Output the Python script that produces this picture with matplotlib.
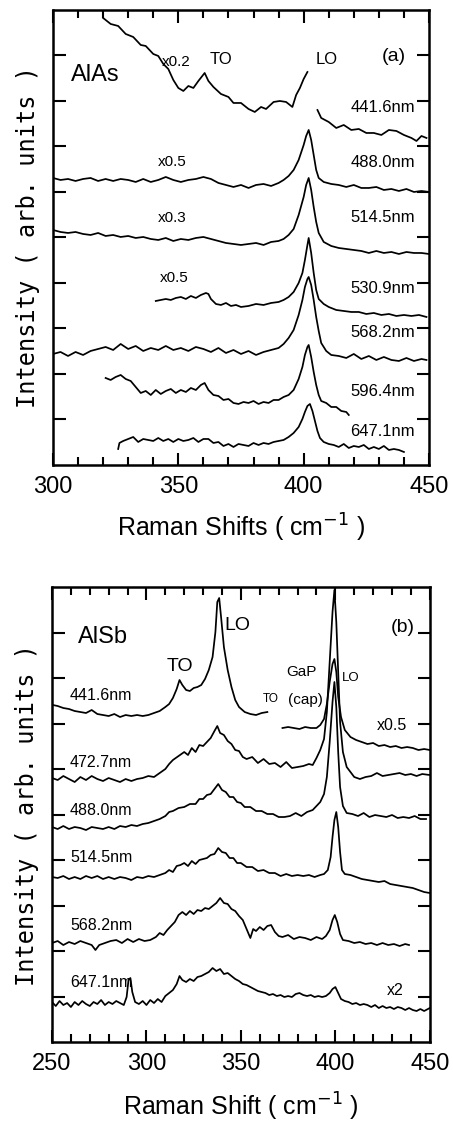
import matplotlib
matplotlib.use("Agg")
import matplotlib.pyplot as plt
from matplotlib.ticker import MultipleLocator

nan = float("nan")

# ---------------- (a) AlAs ----------------
a_4416_x = [320, 323, 326, 329, 332, 335, 337, 340, 342, 344, 346, 348, 350, 352, 354, 356, 358, 360.5, 362, 364,
            367, 370, 372, 375, 378, 380.5, 383, 385, 388, 390.5, 393, 395.5, 397, 398.5, 400, 401.5, 403.5,
            405.5, 407, 410, 413, 416, 419, 422, 425, 428, 431, 434, 437, 440, 443, 445, 447, 449]
a_4416_y = [447, 441, 439, 431, 428, 420, 419, 411, 409, 401, 396, 385, 377, 374, 379, 377, 384, 392, 384, 378,
            371, 368, 362, 362, 356, 353, 358, 356, 363, 364, 363, 358, 370, 377, 386, 393, nan,
            355, 347, 343, 337, 340, 335, 336, 332, 332, 330, 335, 334, 330, 327, 324, 329, 327]

a_4880_x = [300, 303, 306, 309, 312, 315, 318, 321, 324, 327, 330, 333, 336, 339, 342, 345, 348, 351, 354, 357,
            360, 363, 366, 369, 372, 375, 378, 381, 384, 387, 390, 392, 394, 396, 398, 400, 401, 402, 403, 404,
            405, 406, 408, 411, 414, 417, 420, 423, 426, 429, 432, 435, 438, 441, 444, 447, 450]
a_4880_y = [287, 285, 286, 284, 286, 287, 284, 286, 284, 286, 285, 283, 286, 283, 285, 288, 285, 283, 285, 286,
            288, 286, 282, 280, 278, 280, 277, 280, 281, 279, 282, 285, 289, 295, 305, 320, 329, 335, 325, 310,
            295, 287, 283, 281, 280, 278, 280, 277, 277, 278, 275, 276, 274, 276, 273, 274, 273]

a_5145_x = a_4880_x
a_5145_y = [235, 233, 232, 233, 231, 230, 232, 229, 230, 228, 229, 227, 228, 226, 225, 227, 224, 226, 225, 227,
            228, 226, 224, 222, 221, 220, 221, 222, 220, 223, 224, 226, 230, 236, 250, 268, 280, 287, 275, 258,
            243, 232, 223, 219, 217, 216, 215, 214, 212, 214, 212, 213, 211, 213, 212, 212, 211]

a_5309_x = [341, 343, 345, 347, 349, 351, 353, 355, 357, 359, 361, 362, 363, 365, 367, 369, 371, 373, 375, 378,
            381, 384, 387, 390, 392, 394, 396, 398, 399.5, 400.5, 401.5, 402, 403, 404, 405, 406, 408, 410, 413,
            416, 419, 422, 425, 428, 431, 434, 437, 440, 443, 446, 449]
a_5309_y = [164, 165, 166, 165, 167, 168, 166, 169, 167, 170, 172, 171, 166, 161, 160, 162, 159, 160, 158, 159,
            161, 160, 162, 163, 165, 168, 173, 182, 192, 205, 220, 227, 212, 192, 175, 166, 161, 158, 155,
            154, 153, 153, 151, 152, 150, 151, 149, 150, 149, 150, 148]

a_5682_x = [300, 303, 306, 309, 312, 315, 318, 321, 324, 327, 330, 333, 336, 339, 342, 345, 348, 351, 354, 357,
            360, 363, 366, 369, 372, 375, 378, 381, 384, 387, 390, 392, 394, 396, 398, 399.5, 400.5, 401.5, 402,
            403, 404, 405, 406, 407, 409, 411, 414, 417, 420, 423, 426, 429, 432, 435, 438, 441, 444, 447, 449]
a_5682_y = [111, 113, 109, 113, 110, 114, 116, 118, 115, 121, 116, 119, 114, 117, 115, 119, 115, 117, 114, 118,
            116, 113, 117, 112, 115, 111, 114, 110, 113, 115, 117, 121, 127, 135, 150, 165, 178, 186, 188,
            180, 165, 148, 134, 122, 114, 110, 109, 107, 111, 106, 109, 105, 108, 105, 104, 107, 104, 106, 105]

a_5964_x = [321, 323, 325, 327, 329, 331, 333, 335, 337, 339, 341, 343, 345, 347, 349, 351, 353, 355, 357, 359,
            360.5, 362, 364, 366, 368, 370, 372, 374, 376, 378, 380, 382, 384, 386, 388, 390, 392, 394, 396, 398,
            399.5, 400.5, 401.5, 402, 403, 404, 405, 406, 407, 409, 411, 413, 415, 417, 418]
a_5964_y = [87, 85, 88, 90, 86, 84, 78, 72, 74, 70, 75, 71, 74, 76, 72, 75, 73, 77, 75, 80,
            82, 75, 70, 69, 65, 66, 62, 61, 63, 62, 64, 61, 63, 62, 65, 65, 68, 70, 75, 86,
            98, 110, 118, 120, 108, 93, 80, 70, 64, 62, 58, 58, 54, 53, 50]

a_6471_x = [326, 326.5, 328, 330, 332, 334, 336, 338, 340, 342, 344, 346, 348, 350, 352, 354, 356, 358, 360, 362,
            364, 366, 368, 370, 372, 374, 376, 378, 380, 382, 384, 386, 388, 390, 392, 394, 396, 398, 399.5,
            400.5, 401.5, 402.5, 403.5, 404.5, 405.5, 406.5, 408, 410, 412, 414, 416, 418, 420, 422, 424, 426,
            428, 430, 432, 434, 436, 438, 440]
a_6471_y = [16, 22, 24, 26, 28, 23, 26, 25, 24, 27, 24, 26, 23, 26, 24, 25, 27, 23, 26, 26,
            22, 23, 19, 21, 18, 21, 20, 19, 22, 20, 22, 21, 23, 24, 25, 28, 32, 38, 46,
            53, 59, 61, 54, 44, 34, 27, 23, 21, 20, 18, 21, 17, 19, 18, 20, 16,
            18, 16, 19, 15, 16, 15, 13]

a_labels = ["441.6nm", "488.0nm", "514.5nm", "530.9nm", "568.2nm", "596.4nm", "647.1nm"]
a_label_y = [357, 302, 247, 176, 132, 73, 33]
a_factors = ["x0.2", "x0.5", "x0.3", "x0.5"]
a_factor_x = [349, 347.5, 347.5, 348.5]
a_factor_y = [403, 303, 247, 187]

# ---------------- (b) AlSb ----------------
b_4416_x = [250.5, 253, 256, 259, 262, 265, 268, 271, 274, 277, 280, 283, 286, 289, 292, 295, 298, 301, 304, 307,
            310, 312, 314, 316, 317.5, 319, 321, 323, 325, 327, 329, 331, 333, 335, 336.5, 337.5, 338.5, 339.5,
            341, 343, 345, 347, 349, 352, 355, 358, 361, 364, 368, 372, 375, 378, 381, 384, 387, 390, 392,
            394, 395.5, 397, 398.5, 399.5, 400.5, 401.5, 403, 405, 408, 411, 414, 417, 420, 423, 426, 429, 432,
            435, 438, 441, 444, 447, 450]
b_4416_y = [337, 336, 334, 333, 331, 330, 329, 332, 328, 327, 326, 328, 325, 327, 326, 327, 326, 327, 329, 331,
            335, 338, 344, 353, 362, 357, 352, 351, 354, 355, 357, 363, 372, 385, 410, 440, 444, 425,
            395, 372, 355, 342, 335, 330, 328, 327, 329, 330, nan, 314, 315, 314, 313, 315, 314, 314, 317,
            323, 338, 360, 378, 383, 370, 345, 325, 312, 305, 302, 300, 298, 299, 296, 297, 295, 296,
            294, 295, 294, 292, 293, 292]

b_4727_x = [250, 253, 256, 259, 262, 265, 268, 271, 274, 277, 280, 283, 286, 289, 292, 295, 298, 301, 304, 307,
            310, 312, 314, 317, 320, 322, 324, 326, 328, 330, 332, 334, 336, 337.5, 339, 341, 343, 345, 347, 349,
            351, 353, 356, 359, 362, 365, 368, 371, 374, 377, 380, 383, 386, 388, 390, 392, 394, 395.5, 397,
            398.5, 399.5, 400.5, 401.5, 402.5, 404, 406, 408, 410, 413, 416, 419, 422, 425, 428, 431, 434, 437,
            440, 443, 446, 450]
b_4727_y = [264, 262, 266, 263, 260, 265, 262, 266, 263, 261, 264, 262, 260, 263, 261, 263, 264, 266, 265, 269,
            273, 278, 282, 286, 290, 287, 294, 290, 297, 296, 300, 304, 311, 316, 309, 307, 301, 298, 292, 291,
            285, 283, 285, 279, 283, 278, 279, 275, 280, 274, 275, 276, 278, 277, 284, 292, 303, 330, 380,
            430, 452, 420, 370, 320, 290, 275, 270, 265, 263, 265, 266, 269, 266, 267, 268, 269, 267,
            268, 266, 268, 267]

b_4880_x = [250, 253, 256, 259, 262, 265, 268, 271, 274, 277, 280, 283, 286, 289, 292, 295, 298, 301, 304, 307,
            310, 312, 314, 317, 320, 323, 326, 328, 330, 332, 334, 336, 338, 340, 342, 344, 346, 348, 350, 352,
            355, 358, 361, 364, 367, 370, 373, 376, 379, 382, 385, 388, 390, 392, 394, 395.5, 397, 398.5, 399.5,
            400.5, 401.5, 402.5, 404, 406, 409, 412, 415, 418, 421, 424, 427, 430, 433, 436, 439, 442, 445, 448]
b_4880_y = [215, 213, 216, 213, 215, 214, 212, 215, 214, 213, 215, 213, 216, 215, 217, 216, 218, 219, 221, 223,
            226, 230, 231, 234, 235, 238, 238, 243, 243, 247, 248, 253, 258, 252, 250, 245, 245, 240, 239, 235,
            235, 231, 231, 228, 228, 225, 225, 226, 229, 226, 230, 232, 236, 240, 248, 265, 300, 340, 360,
            335, 290, 255, 236, 229, 228, 226, 229, 225, 227, 226, 225, 227, 224, 225, 224, 226, 223, 223]

b_5145_x = [250, 253, 256, 259, 262, 265, 268, 271, 274, 277, 280, 283, 286, 289, 292, 295, 298, 301, 304, 307,
            310, 312, 314, 316, 318, 320, 322, 324, 326, 328, 330, 332, 334, 336, 338, 340, 342, 344, 346, 348,
            350, 353, 356, 359, 362, 365, 368, 371, 374, 377, 380, 383, 386, 389, 392, 394, 396, 397.5, 398.5,
            399.5, 400.5, 401.5, 402.5, 403.5, 405, 408, 411, 414, 417, 420, 423, 426, 429, 432, 435, 438, 441,
            444, 447, 450]
b_5145_y = [165, 164, 166, 163, 165, 163, 166, 164, 166, 163, 165, 163, 165, 164, 162, 165, 164, 166, 165, 167,
            169, 172, 170, 176, 177, 179, 176, 181, 178, 182, 183, 184, 187, 188, 194, 190, 189, 184, 184, 179,
            179, 175, 175, 171, 172, 169, 169, 166, 168, 166, 167, 166, 167, 165, 167, 168, 172, 185, 205,
            222, 230, 215, 190, 172, 168, 167, 165, 163, 162, 161, 160, 161, 158, 157, 156, 155, 154,
            152, 150, 149]

b_5682_x = [250, 253, 256, 259, 262, 265, 268, 271, 273, 275, 278, 281, 284, 287, 290, 293, 296, 299, 302, 305,
            307, 309, 311, 313, 315, 317, 319, 321, 323, 325, 327, 329, 331, 333, 335, 337, 339, 341, 343, 345,
            347, 349, 351, 353, 355, 356.5, 358, 360, 362, 364, 366, 368, 370, 372, 375, 378, 381, 384, 387, 390,
            393, 395, 397, 398.5, 399.7, 401, 402.5, 404, 407, 410, 413, 416, 419, 422, 425, 428, 431, 434, 437,
            439]
b_5682_y = [99, 101, 97, 100, 98, 101, 99, 97, 92, 97, 99, 101, 102, 99, 103, 100, 103, 101, 102, 105,
            109, 107, 112, 116, 120, 127, 130, 127, 131, 128, 132, 131, 134, 133, 136, 139, 144, 139, 138, 133,
            131, 126, 122, 113, 104, 113, 111, 115, 112, 116, 117, 110, 106, 105, 107, 103, 105, 104, 102, 105,
            103, 106, 112, 122, 127, 120, 108, 102, 101, 99, 100, 98, 99, 97, 99, 97, 98, 96, 98,
            97]

b_6471_x = [250, 252, 254, 256, 258, 260, 262, 264, 266, 268, 270, 272, 274, 276, 278, 280, 282, 284, 286, 288,
            289.5, 290.5, 291.5, 292.5, 294, 296, 298, 300, 302, 304, 306, 308, 310, 312, 314, 316, 317.5, 319,
            321, 323, 325, 327, 329, 331, 333, 335, 337, 339, 341, 343, 345, 347, 349, 351, 353, 355, 357, 359,
            361, 363, 365, 367, 369, 371, 373, 375, 377, 379, 381, 383, 385, 387, 389, 391, 393, 395, 397,
            398.5, 400, 401.5, 403, 405, 407, 409, 411, 413, 415, 417, 419, 421, 423, 425, 427, 429, 431, 433,
            435, 437, 439, 441, 443, 445, 447, 450]
b_6471_y = [40, 36, 41, 37, 39, 35, 40, 37, 41, 38, 36, 40, 38, 42, 37, 40, 38, 41, 39, 37,
            45, 62, 64, 50, 40, 38, 41, 37, 42, 39, 43, 40, 46, 49, 52, 58, 66, 62,
            60, 63, 61, 65, 66, 68, 70, 74, 71, 73, 68, 69, 66, 63, 61, 58, 57, 55, 53, 51,
            50, 49, 47, 48, 46, 47, 45, 46, 45, 48, 49, 47, 46, 47, 45, 46, 45, 46, 49,
            53, 55, 49, 43, 41, 40, 38, 39, 37, 38, 37, 35, 37, 34, 36, 34, 35, 33, 35,
            34, 32, 34, 32, 31, 33, 31, 34]

b_labels = ["441.6nm", "472.7nm", "488.0nm", "514.5nm", "568.2nm", "647.1nm"]
b_label_y = [347, 280, 232, 185, 117, 60]

narrow = ["Liberation Sans Narrow", "Liberation Sans", "DejaVu Sans"]
mono = ["DejaVu Sans Mono", "DejaVu Sans"]

fig = plt.figure(figsize=(4.53, 11.33), dpi=100)
ax1 = fig.add_axes([0.117, 0.5896, 0.830, 0.4016])
ax2 = fig.add_axes([0.1148, 0.0803, 0.834, 0.4016])

lw = 1.25
for xs, ys in [(a_4416_x, a_4416_y), (a_4880_x, a_4880_y), (a_5145_x, a_5145_y), (a_5309_x, a_5309_y),
               (a_5682_x, a_5682_y), (a_5964_x, a_5964_y), (a_6471_x, a_6471_y)]:
    ax1.plot(xs, ys, color="black", lw=lw)

for xs, ys in [(b_4416_x, b_4416_y), (b_4727_x, b_4727_y), (b_4880_x, b_4880_y), (b_5145_x, b_5145_y),
               (b_5682_x, b_5682_y), (b_6471_x, b_6471_y)]:
    ax2.plot(xs, ys, color="black", lw=lw)

for lab, yy in zip(a_labels, a_label_y):
    ax1.text(444.5, yy, lab, ha="right", va="center", fontsize=12, family=narrow)
for lab, xx, yy in zip(a_factors, a_factor_x, a_factor_y):
    ax1.text(xx, yy, lab, ha="center", va="center", fontsize=11, family=narrow)
ax1.text(307, 390, "AlAs", ha="left", va="center", fontsize=17, family=narrow)
ax1.text(367, 405, "TO", ha="center", va="center", fontsize=12, family=narrow)
ax1.text(409, 405, "LO", ha="center", va="center", fontsize=12, family=narrow)
ax1.text(436, 408, "(a)", ha="center", va="center", fontsize=14, family=narrow)

for lab, yy in zip(b_labels, b_label_y):
    ax2.text(259.5, yy, lab, ha="left", va="center", fontsize=11.5, family=narrow)
ax2.text(263.5, 405, "AlSb", ha="left", va="center", fontsize=17, family=narrow)
ax2.text(317.5, 376, "TO", ha="center", va="center", fontsize=14, family=narrow)
ax2.text(348, 417, "LO", ha="center", va="center", fontsize=14, family=narrow)
ax2.text(366, 343, "TO", ha="center", va="center", fontsize=8.5, family=narrow)
ax2.text(382, 370, "GaP", ha="center", va="center", fontsize=11, family=narrow)
ax2.text(384, 342, "(cap)", ha="center", va="center", fontsize=11, family=narrow)
ax2.text(408, 364, "LO", ha="center", va="center", fontsize=9.5, family=narrow)
ax2.text(435.5, 415, "(b)", ha="center", va="center", fontsize=14, family=narrow)
ax2.text(430, 317, "x0.5", ha="center", va="center", fontsize=11.5, family=narrow)
ax2.text(431.5, 52, "x2", ha="center", va="center", fontsize=11.5, family=narrow)

ax1.set_xlim(300, 450)
ax2.set_xlim(250, 450)
for ax in (ax1, ax2):
    ax.set_ylim(0, 455)
    ax.set_yticks([45.5 * k for k in range(1, 10)])
    ax.set_yticklabels([])
    ax.xaxis.set_major_locator(MultipleLocator(50))
    ax.xaxis.set_minor_locator(MultipleLocator(10))
    ax.tick_params(which="both", direction="in", top=True, right=True, width=1.5, colors="black")
    ax.tick_params(which="major", length=9)
    ax.tick_params(which="minor", length=6)
    ax.tick_params(axis="x", labelsize=17, pad=8)
    for lab in ax.get_xticklabels():
        lab.set_family(narrow)
    for sp in ax.spines.values():
        sp.set_linewidth(1.8)
    ax.set_ylabel("Intensity ( arb. units )", fontsize=17, family=mono, labelpad=6)

ax1.set_xlabel("Raman Shifts ( cm$^{-1}$ )", fontsize=18, family=narrow, labelpad=10)
ax2.set_xlabel("Raman Shift ( cm$^{-1}$ )", fontsize=18, family=narrow, labelpad=11)

fig.savefig("out.png", dpi=100)
